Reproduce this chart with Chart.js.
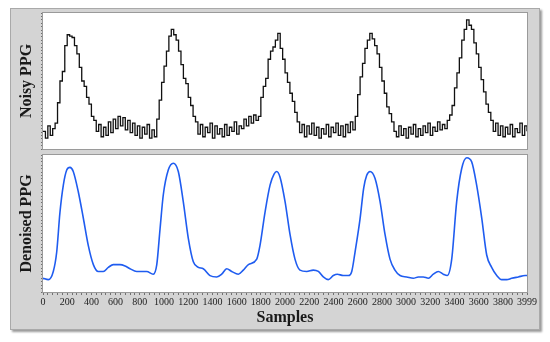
<!DOCTYPE html>
<html>
<head>
<meta charset="utf-8">
<script src="https://cdn.jsdelivr.net/npm/chart.js@4.4.1/dist/chart.umd.min.js"></script>
<style>
  html, body { margin: 0; padding: 0; background: #fff; }
  body { width: 550px; height: 342px; position: relative; overflow: hidden; }
  #panel {
    position: absolute; left: 10px; top: 8px; width: 528px; height: 320px;
    background: #d4d4d4; border: 1px solid #a9a9a9; box-shadow: 2px 2px 2px #9a9a9a;
  }
  canvas { position: absolute; left: 0; }
  #noisyChart { top: 0; }
  #denoisedChart { top: 150px; }
</style>
</head>
<body>
<div id="panel"></div>
<canvas id="noisyChart" width="550" height="150"></canvas>
<canvas id="denoisedChart" width="550" height="192"></canvas>
<script>
// x axis: labelled ticks and the spacing of the small ruler ticks
const xTickLabels = [0, 200, 400, 600, 800, 1000, 1200, 1400, 1600, 1800, 2000,
  2200, 2400, 2600, 2800, 3000, 3200, 3400, 3600, 3800, 3999];
const xMax = 3999;
const xMinorStep = 40;
const yMinorStep = 0.025;

// noisy PPG, one value every 20 samples (last one at 3999)
const noisyStep = 20;
const noisyValues = [
  0.13, 0.08, 0.17, 0.10, 0.15, 0.19,
  0.34, 0.50, 0.57, 0.76, 0.84, 0.83, 0.82, 0.76, 0.70, 0.60, 0.50, 0.46, 0.38, 0.33, 0.24, 0.21, 0.13,
  0.18, 0.09, 0.16, 0.10, 0.20, 0.12, 0.22, 0.15, 0.24, 0.17, 0.23, 0.14, 0.21, 0.12, 0.19, 0.10, 0.17, 0.08, 0.16, 0.11, 0.18, 0.08, 0.14, 0.09,
  0.22, 0.36, 0.49, 0.61, 0.72, 0.83, 0.88, 0.84, 0.80, 0.72, 0.62, 0.52, 0.48, 0.38, 0.32, 0.24, 0.20,
  0.11, 0.18, 0.09, 0.16, 0.12, 0.19, 0.08, 0.17, 0.11, 0.15, 0.09, 0.18, 0.10, 0.16, 0.13, 0.20, 0.11, 0.17, 0.15, 0.22, 0.17, 0.24, 0.19, 0.25, 0.21,
  0.24, 0.38, 0.46, 0.52, 0.66, 0.72, 0.75, 0.80, 0.85, 0.74, 0.66, 0.56, 0.49, 0.41, 0.35, 0.27, 0.20,
  0.12, 0.18, 0.09, 0.17, 0.11, 0.19, 0.10, 0.16, 0.08, 0.15, 0.11, 0.18, 0.09, 0.16, 0.12, 0.19, 0.10, 0.17, 0.09, 0.18, 0.12, 0.20, 0.14,
  0.24, 0.40, 0.53, 0.63, 0.74, 0.80, 0.85, 0.81, 0.76, 0.70, 0.60, 0.50, 0.41, 0.31, 0.26, 0.20,
  0.13, 0.09, 0.17, 0.10, 0.15, 0.08, 0.16, 0.11, 0.18, 0.09, 0.15, 0.10, 0.17, 0.12, 0.19, 0.10, 0.16, 0.13, 0.20, 0.14, 0.18, 0.15, 0.21,
  0.25, 0.32, 0.45, 0.56, 0.67, 0.80, 0.88, 0.95, 0.91, 0.88, 0.78, 0.70, 0.60, 0.51, 0.42, 0.33, 0.27, 0.21,
  0.13, 0.19, 0.10, 0.17, 0.09, 0.16, 0.11, 0.18, 0.09, 0.15, 0.12, 0.19, 0.10, 0.17,
  0.13
];

// denoised PPG, read at the turning points of the blue curve
const denoisedSamples = [
  0, 44, 85, 113, 140, 168, 196, 223, 250, 292, 333, 374, 416, 457, 498, 540, 581, 636, 678, 719,
  774, 815, 857, 911, 940, 967, 994, 1035, 1077, 1118, 1159, 1201, 1242, 1283, 1324, 1380, 1435, 1476, 1518, 1559,
  1614, 1655, 1697, 1766, 1793, 1834, 1876, 1909, 1931, 1958, 2000, 2041, 2082, 2123, 2179, 2233, 2275, 2316, 2357, 2399,
  2432, 2481, 2523, 2551, 2578, 2619, 2650, 2674, 2702, 2743, 2785, 2826, 2867, 2908, 2950, 3005, 3060, 3101, 3142, 3184,
  3225, 3266, 3307, 3340, 3377, 3418, 3459, 3501, 3542, 3583, 3625, 3666, 3707, 3749, 3790, 3831, 3872, 3927, 3983, 3999
];
const denoisedValues = [
  0.10, 0.09, 0.15, 0.29, 0.58, 0.78, 0.89, 0.91, 0.88, 0.73, 0.54, 0.34, 0.20, 0.15, 0.15, 0.18, 0.20, 0.20, 0.19, 0.17,
  0.15, 0.15, 0.15, 0.13, 0.20, 0.46, 0.71, 0.89, 0.94, 0.88, 0.66, 0.39, 0.22, 0.18, 0.17, 0.12, 0.11, 0.13, 0.17, 0.15,
  0.13, 0.16, 0.20, 0.24, 0.34, 0.58, 0.78, 0.86, 0.88, 0.84, 0.66, 0.42, 0.24, 0.16, 0.15, 0.16, 0.15, 0.11, 0.09, 0.12,
  0.13, 0.12, 0.12, 0.15, 0.29, 0.53, 0.76, 0.85, 0.88, 0.83, 0.66, 0.42, 0.24, 0.16, 0.12, 0.11, 0.10, 0.11, 0.11, 0.10,
  0.13, 0.15, 0.13, 0.12, 0.24, 0.66, 0.90, 0.98, 0.95, 0.78, 0.54, 0.27, 0.18, 0.12, 0.09, 0.09, 0.10, 0.11, 0.12, 0.12
];

const noisyPoints = noisyValues.map((v, i) => ({ x: Math.min(i * noisyStep, xMax), y: v }));
const denoisedPoints = denoisedSamples.map((s, i) => ({ x: s, y: denoisedValues[i] }));

// white plot area with a thin grey frame
const plotBox = {
  id: "plotBox",
  beforeDraw(chart) {
    const { ctx, chartArea: a } = chart;
    ctx.save();
    ctx.fillStyle = "#ffffff";
    ctx.fillRect(a.left, a.top, a.right - a.left, a.bottom - a.top);
    ctx.restore();
  },
  afterDraw(chart) {
    const { ctx, chartArea: a } = chart;
    ctx.save();
    ctx.strokeStyle = "#9a9a9a";
    ctx.lineWidth = 1;
    ctx.strokeRect(a.left - 0.5, a.top - 0.5, a.right - a.left + 1, a.bottom - a.top + 1);
    ctx.restore();
  },
};

function yScale(title) {
  return {
    min: 0,
    max: 1,
    afterBuildTicks: (scale) => {
      const t = [];
      for (let k = 0; k <= 40; k++) t.push({ value: k * yMinorStep });
      scale.ticks = t;
    },
    afterFit: (scale) => { scale.width = 33; },
    ticks: { display: false },
    grid: { drawOnChartArea: false, tickLength: 2, color: "#707070" },
    border: { display: false },
    title: {
      display: true,
      text: title,
      color: "#1a1a1a",
      padding: { top: 7, bottom: 0 },
      font: { family: "Liberation Serif", size: 16, weight: "bold" },
    },
  };
}

function xScale(showAxis) {
  return {
    type: "linear",
    min: 0,
    max: xMax,
    display: showAxis,
    afterBuildTicks: (scale) => {
      const t = [];
      for (let v = 0; v < xMax; v += xMinorStep) t.push({ value: v });
      t.push({ value: xMax });
      scale.ticks = t;
    },
    afterFit: (scale) => { scale.height = showAxis ? 38 : 0; },
    ticks: {
      autoSkip: false,
      maxRotation: 0,
      padding: 1,
      color: "#222",
      font: { family: "Liberation Serif", size: 10 },
      callback: (value) => (xTickLabels.includes(value) ? String(value) : ""),
    },
    grid: { drawOnChartArea: false, tickLength: 3, color: "#707070" },
    border: { display: false },
    title: {
      display: true,
      text: "Samples",
      color: "#1a1a1a",
      padding: { top: 0, bottom: 2.4 },
      font: { family: "Liberation Serif", size: 16, weight: "bold" },
    },
  };
}

new Chart(document.getElementById("noisyChart"), {
  type: "line",
  data: {
    datasets: [{
      label: "Noisy PPG",
      data: noisyPoints,
      borderColor: "#111111",
      borderWidth: 1.3,
      stepped: true,
      pointRadius: 0,
    }],
  },
  options: {
    responsive: false,
    animation: false,
    layout: { padding: { left: 10, right: 23, top: 13, bottom: 1 } },
    plugins: { legend: { display: false }, tooltip: { enabled: false } },
    scales: { x: xScale(false), y: yScale("Noisy PPG") },
  },
  plugins: [plotBox],
});

new Chart(document.getElementById("denoisedChart"), {
  type: "line",
  data: {
    datasets: [{
      label: "Denoised PPG",
      data: denoisedPoints,
      borderColor: "#1f5cf0",
      borderWidth: 1.6,
      cubicInterpolationMode: "monotone",
      pointRadius: 0,
    }],
  },
  options: {
    responsive: false,
    animation: false,
    layout: { padding: { left: 10, right: 23, top: 5, bottom: 12 } },
    plugins: { legend: { display: false }, tooltip: { enabled: false } },
    scales: { x: xScale(true), y: yScale("Denoised PPG") },
  },
  plugins: [plotBox],
});
</script>
</body>
</html>
